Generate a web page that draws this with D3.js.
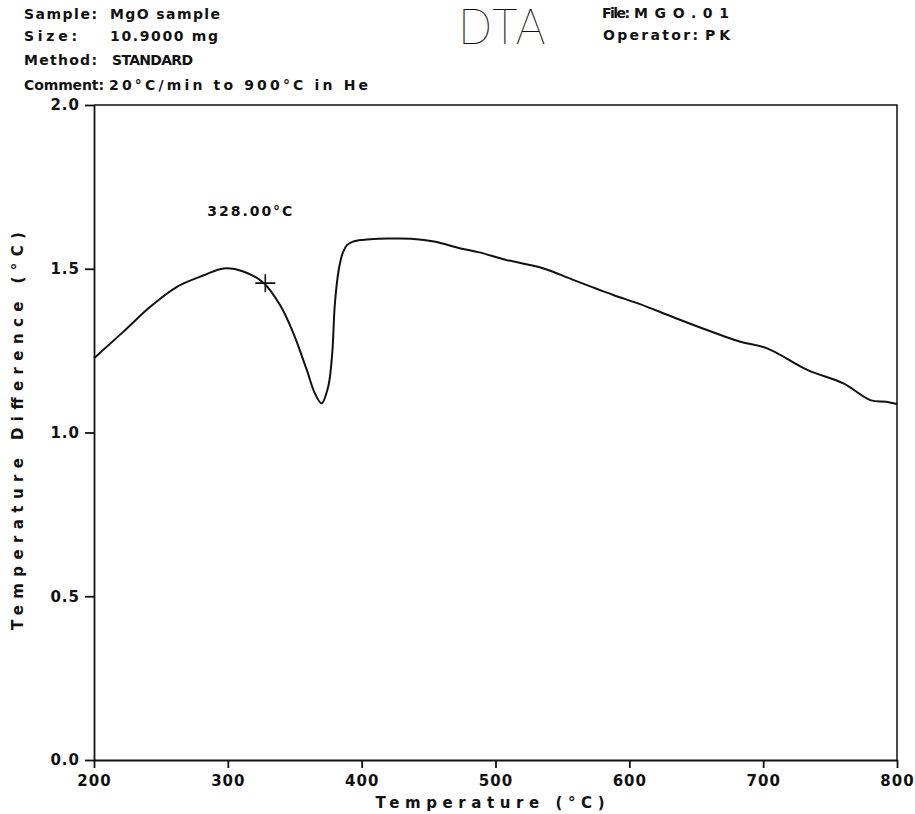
<!DOCTYPE html>
<html>
  <head>
    <meta charset="utf-8">
    <title>DTA - MgO sample</title>
    <script src="https://d3js.org/d3.v7.min.js"></script>
    <style>
      body { margin: 0; background: #fff; }
      text { font-family: "DejaVu Sans", sans-serif; font-weight: bold; fill: #111; }
    </style>
  </head>
  <body>
  <div id="chart"></div>
  <script>

  // DTA trace
  var temperature = [200, 222, 242, 262, 282, 297, 312, 327, 339, 349, 359, 365, 370, 375, 378, 380, 383, 386, 389, 393, 398, 404,
                     420, 439, 454, 474, 488, 508, 536, 558, 588, 608, 633, 658, 683, 703, 733, 760, 780, 792, 800];
  var deltaT      = [1.227, 1.308, 1.384, 1.445, 1.480, 1.501, 1.491, 1.456, 1.389, 1.303, 1.191, 1.120, 1.089, 1.140, 1.242, 1.394, 1.500, 1.550, 1.572, 1.582, 1.587, 1.589,
                     1.592, 1.591, 1.583, 1.562, 1.550, 1.527, 1.501, 1.466, 1.420, 1.392, 1.352, 1.313, 1.277, 1.257, 1.191, 1.150, 1.099, 1.094, 1.087];
  var xTicks = [200, 300, 400, 500, 600, 700, 800];
  var yTicks = [0.0, 0.5, 1.0, 1.5, 2.0];
  var marker = { t: 328, v: 1.456, label: "328.00°C" };

  var header = [
    { text: "Sample:",   x: 24,  y: 19, w: 73 },
    { text: "MgO sample", x: 110, y: 19, w: 110 },
    { text: "Size:",     x: 24,  y: 41, w: 53 },
    { text: "10.9000 mg", x: 110, y: 41, w: 108 },
    { text: "Method:",   x: 24,  y: 65, w: 73 },
    { text: "STANDARD",  x: 112, y: 65, w: 81 },
    { text: "Comment:",  x: 24,  y: 90, w: 80 },
    { text: "20°C/min to 900°C in He", x: 109, y: 90, w: 259 },
    { text: "File:",     x: 602, y: 18, w: 28 },
    { text: "MGO.01",    x: 634, y: 18, w: 95 },
    { text: "Operator:", x: 603, y: 40, w: 95 },
    { text: "PK",        x: 705, y: 40, w: 25 }
  ];

  var width = 915, height = 814;
  var plotL = 94, plotR = 897, plotT = 105, plotB = 760;

  var svg = d3.select("#chart").append("svg")
      .attr("width", width)
      .attr("height", height);

  var x = d3.scaleLinear().domain([200, 800]).range([plotL, plotR]);
  var y = d3.scaleLinear().domain([0, 2]).range([plotB, plotT]);

  // header block
  svg.selectAll(".hdr")
      .data(header)
      .enter()
      .append("text")
      .attr("class", "hdr")
      .attr("x", function(d_){ return d_.x; })
      .attr("y", function(d_){ return d_.y; })
      .attr("font-size", 14)
      .attr("textLength", function(d_){ return d_.w; })
      .attr("lengthAdjust", "spacing")
      .text(function(d_){ return d_.text; });

  svg.append("text")
      .attr("x", 458)
      .attr("y", 44)
      .attr("font-size", 48)
      .attr("textLength", 88)
      .attr("lengthAdjust", "spacing")
      .style("font-family", "'DejaVu Sans ExtraLight', Inter, 'DejaVu Sans'")
      .style("font-weight", 100)
      .text("DTA");

  // frame (top and right)
  svg.append("path")
      .attr("d", "M" + plotL + "," + plotT + "H" + plotR + "V" + plotB)
      .attr("fill", "none")
      .attr("stroke", "#111")
      .attr("stroke-width", 1.5);

  var xAxis = svg.append("g")
      .attr("transform", "translate(0," + plotB + ")")
      .call(d3.axisBottom(x).tickValues(xTicks).tickSize(8).tickSizeOuter(0).tickPadding(4));

  var yAxis = svg.append("g")
      .attr("transform", "translate(" + plotL + ",0)")
      .call(d3.axisLeft(y).tickValues(yTicks).tickFormat(d3.format(".1f")).tickSize(9).tickSizeOuter(0).tickPadding(5));

  svg.selectAll(".domain, .tick line")
      .attr("stroke", "#111")
      .attr("stroke-width", 1.8);

  svg.selectAll(".tick text")
      .attr("font-size", 15)
      .style("font-family", "'DejaVu Sans', sans-serif")
      .style("font-weight", "bold")
      .attr("fill", "#111")
      .attr("letter-spacing", "1px");

  xAxis.selectAll(".tick text").attr("dy", "0.95em");

  // axis titles
  svg.append("text")
      .attr("x", 490)
      .attr("y", 808)
      .attr("text-anchor", "middle")
      .attr("font-size", 15)
      .attr("textLength", 229)
      .attr("lengthAdjust", "spacing")
      .text("Temperature (°C)");

  svg.append("text")
      .attr("transform", "translate(23,431) rotate(-90)")
      .attr("text-anchor", "middle")
      .attr("font-size", 15)
      .attr("textLength", 398)
      .attr("lengthAdjust", "spacing")
      .text("Temperature Difference (°C)");

  // trace
  var line = d3.line()
      .x(function(d_){ return x(d_[0]); })
      .y(function(d_){ return y(d_[1]); })
      .curve(d3.curveCatmullRom.alpha(0.5));

  svg.append("path")
      .datum(d3.zip(temperature, deltaT))
      .attr("d", line)
      .attr("fill", "none")
      .attr("stroke", "#111")
      .attr("stroke-width", 2);

  // cursor mark and its label
  var mx = x(marker.t), my = y(marker.v);
  svg.append("path")
      .attr("d", "M" + (mx - 10) + "," + my + "H" + (mx + 10) + "M" + mx + "," + (my - 9) + "V" + (my + 9))
      .attr("stroke", "#111")
      .attr("stroke-width", 1.6);

  svg.append("text")
      .attr("x", mx - 58)
      .attr("y", my - 67)
      .attr("font-size", 14)
      .attr("textLength", 85)
      .attr("lengthAdjust", "spacing")
      .text(marker.label);

  </script>
  </body>
</html>
